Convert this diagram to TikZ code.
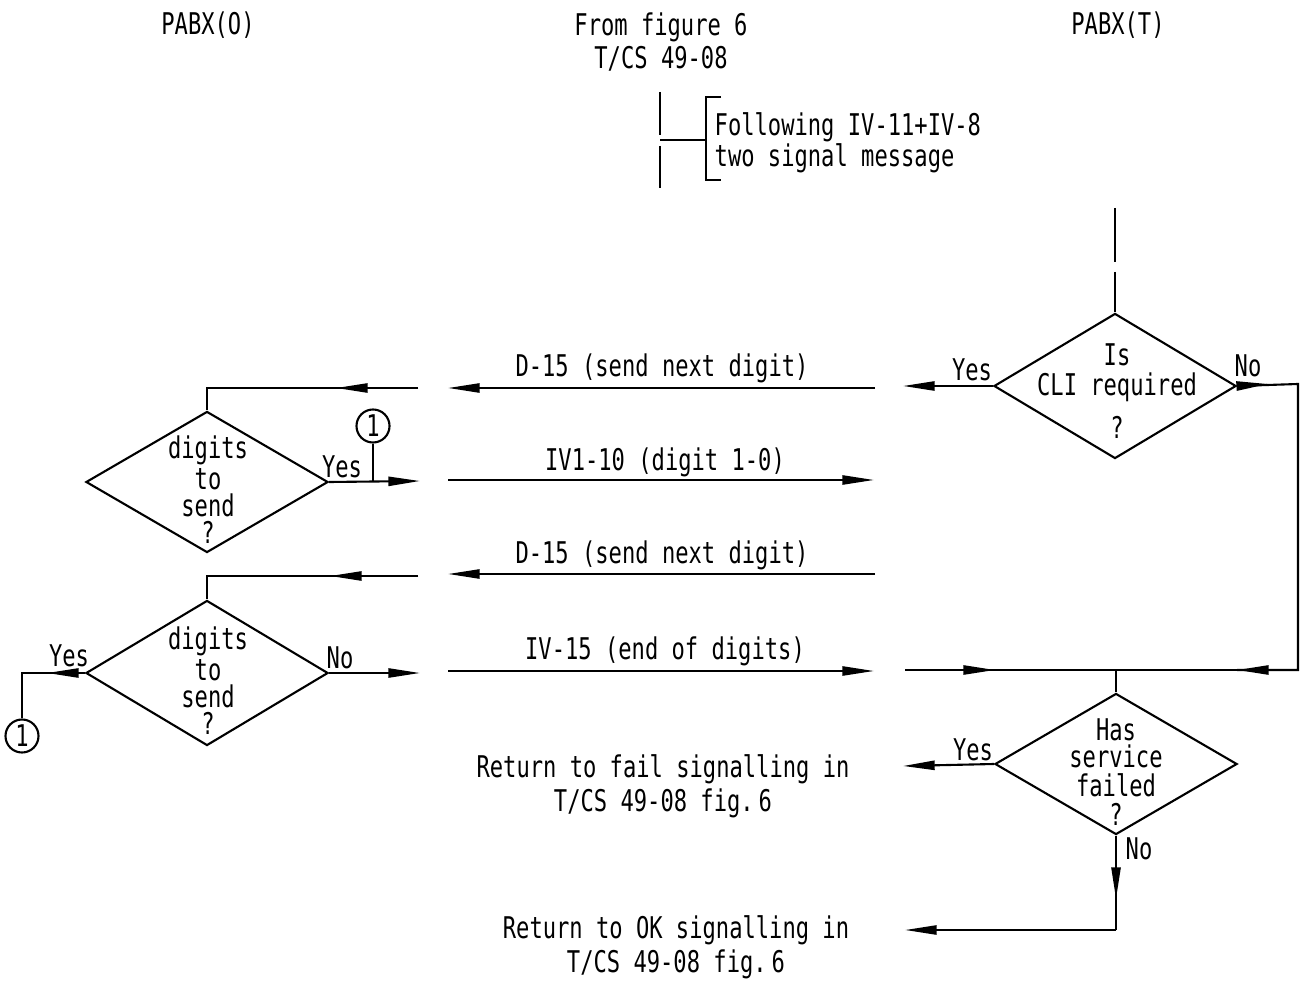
\documentclass[tikz,border=0pt]{standalone}
\usepackage{fontspec}
\setmainfont{DejaVu Sans Mono}[FakeStretch=0.74]
\usetikzlibrary{shapes.geometric,arrows.meta}
\tikzset{
  ln/.style={line width=0.6pt},
  arr/.style={ln,-{Triangle[length=9pt,width=2.6pt]}},
  diam/.style={diamond,draw,ln,minimum width=2.42cm,minimum height=1.43cm,inner sep=0pt},
  circ/.style={circle,draw,ln,minimum size=0.33cm,inner sep=0pt},
  txt/.style={inner sep=0pt,align=center},
  every node/.style={font=\fontsize{8.5}{8}\selectfont}
}
\begin{document}
\begin{tikzpicture}[x=0.01cm,y=-0.01cm]
\useasboundingbox (0,0) rectangle (1301,983);
% titles
\node[txt] (t0) at (208,25) {PABX(O)};
\node[txt] (tf) at (661,42) {From figure 6\\[0.2pt]T/CS 49-08};
\node[txt] (tt) at (1118,25) {PABX(T)};
% bracket
\coordinate (b1) at (660,92); \coordinate (b2) at (660,135);
\coordinate (b3) at (660,146); \coordinate (b4) at (660,188);
\coordinate (bm) at (660,140); \coordinate (bj) at (706,140);
\draw[ln] (b1) -- (b2); \draw[ln] (b3) -- (b4);
\draw[ln] (bm) -- (bj);
\coordinate (bt) at (721,97); \coordinate (bb) at (721,180);
\draw[ln] (bt) -| (bj) |- (bb);
\node[txt,anchor=west,align=left] (fol) at (714,143) {Following IV-11+IV-8\\[-0.6pt]two signal message};
% right vertical
\coordinate (r1) at (1115,208); \coordinate (r2) at (1115,262); \coordinate (r3) at (1115,272);
\draw[ln] (r1) -- (r2);
% diamonds
\node[diam,minimum height=1.45cm] (cli) at (1115,386) {};
\node[txt] at (1117,391) {Is\\[0.6pt]CLI required\\[3pt]?};
\draw[ln] (r3) -- (cli.north);
\node[diam,minimum height=1.41cm] (hs) at (1116,764) {};
\node[txt] at (1116,772) {Has\\[-0.2pt]service\\[0.2pt]failed\\[0.2pt]?};
\node[diam,minimum height=1.41cm] (d1) at (207,482) {};
\node[txt] at (208,490) {digits\\[0.6pt]to\\[-0.2pt]send\\[-0.2pt]?};
\node[diam,minimum height=1.45cm] (d2) at (207,673) {};
\node[txt] at (208,681) {digits\\[0.6pt]to\\[-0.2pt]send\\[-0.2pt]?};
% CLI yes
\coordinate (cy) at (903,386);
\draw[arr] (cli.west) -- (cy);
\node[txt] at (972,370) {Yes};
% CLI no
\coordinate (cn1) at (1268,384); \coordinate (cn2) at (1298,384);
\coordinate (cn3) at (1298,670); \coordinate (cn4) at (1237,670);
\draw[ln] (cli.east) -- (cn2) -- (cn3) -- (cn4);
\draw[arr] (cli.east) -- (cn1);
\node[txt] at (1248,366) {No};
% merge line
\coordinate (mj) at (1116,670); \coordinate (ml) at (905,670); \coordinate (mt) at (995,670);
\draw[ln] (cn3) -- (ml);
\draw[arr] (cn3) -- (cn4);
\draw[arr] (ml) -- (mt);
\draw[ln] (mj) -- (hs.north);
% has service yes/no
\coordinate (hy) at (903,766);
\draw[arr] (hs.west) -- (hy);
\node[txt] at (973,750) {Yes};
\coordinate (hn1) at (1116,899); \coordinate (hn2) at (1116,930); \coordinate (hn3) at (905,930);
\draw[ln] (hs.south) -- (hn2);
\draw[arr] (hs.south) -- (hn1);
\draw[arr] (hn2) -- (hn3);
\node[txt] at (1139,849) {No};
\node[txt] at (663,786) {Return to fail signalling in\\[0.4pt]T/CS 49-08 fig.\,6};
\node[txt] at (676,947) {Return to OK signalling in\\[0.4pt]T/CS 49-08 fig.\,6};
% middle messages
\coordinate (m1r) at (875,388); \coordinate (m1l) at (448,388);
\draw[arr] (m1r) -- (m1l);
\node[txt] at (662,368) {D-15 (send next digit)};
\coordinate (m2l) at (448,480); \coordinate (m2r) at (874,480);
\draw[arr] (m2l) -- (m2r);
\node[txt] at (665,462) {IV1-10 (digit 1-0)};
\coordinate (m3r) at (875,574); \coordinate (m3l) at (448,574);
\draw[arr] (m3r) -- (m3l);
\node[txt] at (662,555) {D-15 (send next digit)};
\coordinate (m4l) at (448,671); \coordinate (m4r) at (874,671);
\draw[arr] (m4l) -- (m4r);
\node[txt] at (665,651) {IV-15 (end of digits)};
% left side top
\coordinate (l1) at (418,388); \coordinate (l1t) at (336,388);
\draw[ln] (l1) -| (d1.north);
\draw[arr] (l1) -- (l1t);
% d1 yes
\coordinate (y1) at (373,481); \coordinate (y1e) at (420,481);
\draw[arr] (d1.east) -- (y1e);
\node[circ] (c1) at (373,426) {1};
\draw[ln] (c1.south) -- (y1);
\node[txt] at (342,467) {Yes};
% left second
\coordinate (l2) at (418,576); \coordinate (l2t) at (330,576);
\draw[ln] (l2) -| (d2.north);
\draw[arr] (l2) -- (l2t);
% d2 no
\coordinate (n2e) at (420,673);
\draw[arr] (d2.east) -- (n2e);
\node[txt] at (340,658) {No};
% d2 yes
\node[circ] (c2) at (22,736) {1};
\coordinate (y2t) at (47,673); \coordinate (y2c) at (22,673);
\draw[ln] (d2.west) -- (y2c) -- (c2.north);
\draw[arr] (d2.west) -- (y2t);
\node[txt] at (69,656) {Yes};
\end{tikzpicture}
\end{document}
